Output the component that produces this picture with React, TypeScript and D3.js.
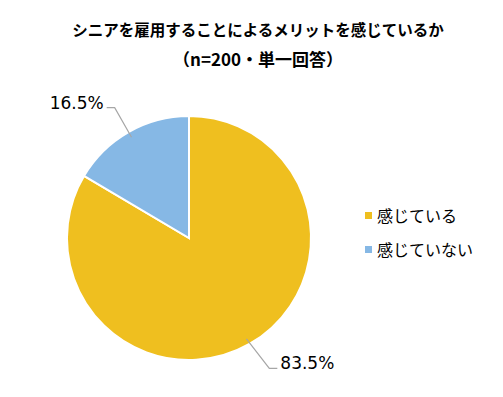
import React, { useEffect, useRef } from "react";
import * as d3 from "d3";

const categories = ["感じている", "感じていない"];
const values = [83.5, 16.5];
const colors = ["#EFBF1F", "#86B8E5"];
const titleLines = ["シニアを雇用することによるメリットを感じているか", "（n=200・単一回答）"];
const titleSizes = [15.5, 17];

const width = 503;
const height = 397;
const cx = 189;
const cy = 238;
const radius = 122;
const font = "'Noto Sans CJK JP', 'Noto Sans', sans-serif";
const numFont = "'DejaVu Sans', sans-serif";

export default function App() {
  const ref = useRef<SVGSVGElement>(null);

  useEffect(() => {
    const svg = d3.select(ref.current);
    svg.selectAll("*").remove();

    svg
      .append("rect")
      .attr("width", width)
      .attr("height", height)
      .attr("fill", "#ffffff");

    // title
    svg
      .append("g")
      .selectAll("text")
      .data(titleLines)
      .enter()
      .append("text")
      .attr("x", 258)
      .attr("y", (d, i) => 36 + i * 30)
      .attr("text-anchor", "middle")
      .style("font-family", font)
      .style("font-size", (d, i) => `${titleSizes[i]}px`)
      .style("font-weight", "bold")
      .attr("fill", "#000")
      .text((d) => d);

    const dataset = categories.map((c, i) => ({ label: c, value: values[i], color: colors[i] }));
    const pie = d3
      .pie<any>()
      .value((d) => d.value)
      .sort(null);
    const arc = d3.arc<any>().innerRadius(0).outerRadius(radius);
    const arcs = pie(dataset);

    const g = svg.append("g").attr("transform", `translate(${cx},${cy})`);
    g.selectAll("path")
      .data(arcs)
      .enter()
      .append("path")
      .attr("d", arc)
      .attr("fill", (d) => d.data.color)
      .attr("stroke", "#ffffff")
      .attr("stroke-width", 2);

    // data labels with leader lines
    arcs.forEach((a) => {
      const mid = (a.startAngle + a.endAngle) / 2;
      const sx = Math.sin(mid);
      const sy = -Math.cos(mid);
      const p0 = [sx * (radius - 6), sy * (radius - 6)];
      const p1 = [sx * (radius + 28) + (sx < 0 ? 0 : 6), sy * (radius + 28)];
      const dir = sx < 0 ? -1 : 1;
      const p2 = [p1[0] + dir * 8, p1[1]];
      g.append("polyline")
        .attr("points", [p0, p1, p2].map((p) => p.join(",")).join(" "))
        .attr("fill", "none")
        .attr("stroke", "#a6a6a6")
        .attr("stroke-width", 1.2);
      g.append("text")
        .attr("x", p2[0] + dir * 3)
        .attr("y", p2[1] + 1)
        .attr("text-anchor", dir < 0 ? "end" : "start")
        .style("font-family", numFont)
        .style("font-size", "17px")
        .attr("fill", "#000")
        .text(`${a.data.value}%`);
    });

    // legend
    const legend = svg.append("g").attr("transform", "translate(365,216)");
    dataset.forEach((d, i) => {
      const row = legend.append("g").attr("transform", `translate(0,${i * 34})`);
      row
        .append("rect")
        .attr("x", 0)
        .attr("y", -4)
        .attr("width", 7)
        .attr("height", 7)
        .attr("fill", d.color);
      row
        .append("text")
        .attr("x", 12)
        .attr("y", 0)
        .attr("dy", "0.35em")
        .style("font-family", font)
        .style("font-size", "16px")
        .attr("fill", "#000")
        .text(d.label);
    });
  }, []);

  return (
    <svg
      ref={ref}
      width={width}
      height={height}
      style={{ position: "absolute", left: 0, top: 0 }}
    />
  );
}
